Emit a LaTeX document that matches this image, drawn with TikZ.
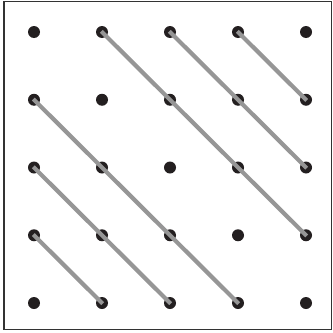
\documentclass[tikz,border=0pt]{standalone}
\usepackage{xcolor}
\usepackage{tikz}
\usetikzlibrary{positioning,calc}

\definecolor{dotblack}{RGB}{35,31,32}
\definecolor{linkgray}{RGB}{150,150,150}

\begin{document}
\begin{tikzpicture}[x=0.3mm,y=-0.3mm,
  pt/.style={circle,fill=dotblack,minimum size=3.6mm,inner sep=0pt},
  link/.style={draw=linkgray,line width=1.25mm,shorten <=-0.3mm,shorten >=-0.3mm}]
 \useasboundingbox (0,0) rectangle (333,332);
 \draw[line width=0.45mm,draw=black!80] (4,1.5) rectangle (331.5,329.5);
 % grid of dots, p<col><row>
 \foreach \c in {1,...,5}
  \foreach \r in {1,...,5}
   \node[pt] (p\c\r) at ({34+68*(\c-1)},{32+67.75*(\r-1)}) {};
 % diagonal links
 \draw[link] (p21.center)--(p54.center);
 \draw[link] (p31.center)--(p53.center);
 \draw[link] (p41.center)--(p52.center);
 \draw[link] (p12.center)--(p45.center);
 \draw[link] (p13.center)--(p35.center);
 \draw[link] (p14.center)--(p25.center);
\end{tikzpicture}
\end{document}
